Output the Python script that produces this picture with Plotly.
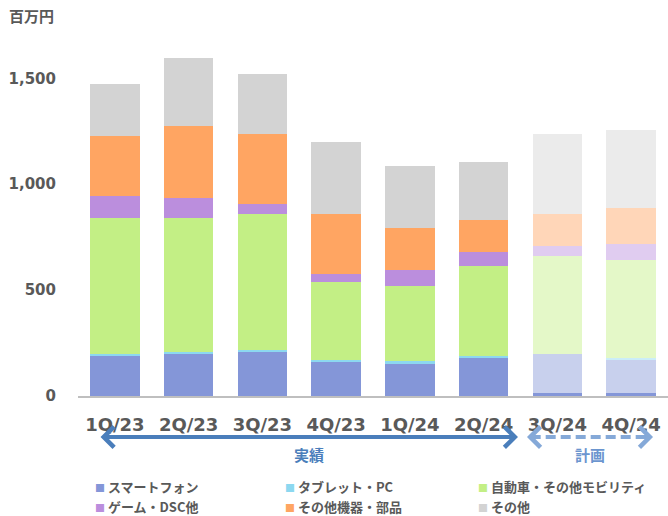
import plotly.graph_objects as go

categories = ["1Q/23", "2Q/23", "3Q/23", "4Q/23", "1Q/24", "2Q/24", "3Q/24", "4Q/24"]
smartphone_base = [0, 0, 0, 0, 0, 0, 12, 12]
smartphone = [191, 200, 210, 163, 153, 181, 188, 160]
tablet = [9, 10, 9, 9, 10, 10, 0, 9]
auto = [642, 632, 642, 368, 358, 425, 463, 463]
game = [104, 94, 47, 38, 76, 66, 47, 75]
parts = [283, 340, 330, 283, 198, 151, 151, 170]
other = [245, 321, 283, 339, 292, 273, 377, 368]
is_plan = [False, False, False, False, False, False, True, True]

series_names = ["スマートフォン", "タブレット・PC", "自動車・その他モビリティ",
                "ゲーム・DSC他", "その他機器・部品", "その他"]
series_values = [smartphone, tablet, auto, game, parts, other]
series_colors = ["#8496d8", "#8cd8f0", "#c3ef85", "#bb8edd", "#ffa562", "#d3d3d3"]

plan_opacity = [0.45 if p else 1.0 for p in is_plan]

fig = go.Figure()
fig.add_trace(go.Bar(x=categories, y=smartphone_base, marker=dict(color=series_colors[0], line_width=0),
                     showlegend=False, hoverinfo="skip"))
for name, vals, col in zip(series_names, series_values, series_colors):
    fig.add_trace(go.Bar(x=categories, y=vals, name=name,
                         marker=dict(color=col, opacity=plan_opacity, line_width=0),
                         showlegend=False))

TICK = "#595959"
FONT_NUM = "DejaVu Sans"
FONT_JP = "Noto Sans CJK JP"

fig.update_layout(
    width=668, height=516,
    margin=dict(l=78, r=0, t=36, b=120),
    barmode="stack", bargap=0.33,
    plot_bgcolor="white", paper_bgcolor="white",
    showlegend=False,
    xaxis=dict(range=[-0.5, 7.5], showline=True, linecolor="#bfbfbf", linewidth=2,
               ticks="", ticklabelstandoff=11,
               tickfont=dict(family=FONT_NUM, size=18, color=TICK, weight="bold"),
               fixedrange=True),
    yaxis=dict(range=[0, 1700], tickvals=[0, 500, 1000, 1500], tickformat=",d",
               showgrid=False, zeroline=False, showline=False, ticks="",
               ticklabelstandoff=21,
               tickfont=dict(family=FONT_NUM, size=15, color=TICK, weight="bold"),
               fixedrange=True),
)

# unit label
fig.add_annotation(text="<b>百万円</b>", xref="paper", yref="paper", x=-0.12, y=1.056,
                   xanchor="left", yanchor="middle", showarrow=False,
                   font=dict(family=FONT_JP, size=15, color=TICK))

# arrows: actual (solid) and plan (dashed)
ARROW_Y = -0.114
actual_span = [-0.215, 5.466]
plan_span = [5.588, 7.297]
C_ACT = "#4a7ebb"
C_PLAN = "#85a9d8"

fig.add_annotation(x=actual_span[1], y=ARROW_Y, xref="x", yref="paper",
                   ax=actual_span[0], ay=0, axref="x", ayref="pixel",
                   text="", showarrow=True, arrowside="end+start",
                   arrowhead=4, startarrowhead=4, arrowsize=1.0, startarrowsize=1.0,
                   arrowwidth=4, arrowcolor=C_ACT)

fig.add_shape(type="line", xref="x", yref="paper",
              x0=plan_span[0] + 0.05, x1=plan_span[1] - 0.05, y0=ARROW_Y, y1=ARROW_Y,
              line=dict(color=C_PLAN, width=4, dash="10px,5px"))
fig.add_annotation(x=plan_span[0], y=ARROW_Y, xref="x", yref="paper",
                   ax=plan_span[0] + 0.17, ay=0, axref="x", ayref="pixel",
                   text="", showarrow=True, arrowhead=4, arrowsize=1.0,
                   arrowwidth=4, arrowcolor=C_PLAN)
fig.add_annotation(x=plan_span[1], y=ARROW_Y, xref="x", yref="paper",
                   ax=plan_span[1] - 0.17, ay=0, axref="x", ayref="pixel",
                   text="", showarrow=True, arrowhead=4, arrowsize=1.0,
                   arrowwidth=4, arrowcolor=C_PLAN)

fig.add_annotation(text="<b>実績</b>", x=sum(actual_span) / 2, y=-0.162, xref="x", yref="paper",
                   yanchor="middle", showarrow=False, font=dict(family=FONT_JP, size=15, color=C_ACT))
fig.add_annotation(text="<b>計画</b>", x=sum(plan_span) / 2, y=-0.162, xref="x", yref="paper",
                   yanchor="middle", showarrow=False, font=dict(family=FONT_JP, size=15, color="#6b95cf"))

# legend (manual, 3 columns x 2 rows)
leg_x = [93, 283, 476]
leg_y = [486, 506]
for i, (name, col) in enumerate(zip(series_names, series_colors)):
    r, c = divmod(i, 3)
    px = leg_x[c]
    py = leg_y[r]
    fig.add_annotation(
        text=f'<span style="color:{col};font-size:10px">■</span> <b>{name}</b>',
        xref="paper", yref="paper",
        x=(px - 78) / 590, y=(396 - py) / 360,
        xanchor="left", yanchor="middle", showarrow=False,
        font=dict(family=FONT_JP, size=13, color=TICK))

fig.write_html("out.html", config={"displayModeBar": False},
               post_script="document.body.style.margin='0';document.body.style.padding='0';")
